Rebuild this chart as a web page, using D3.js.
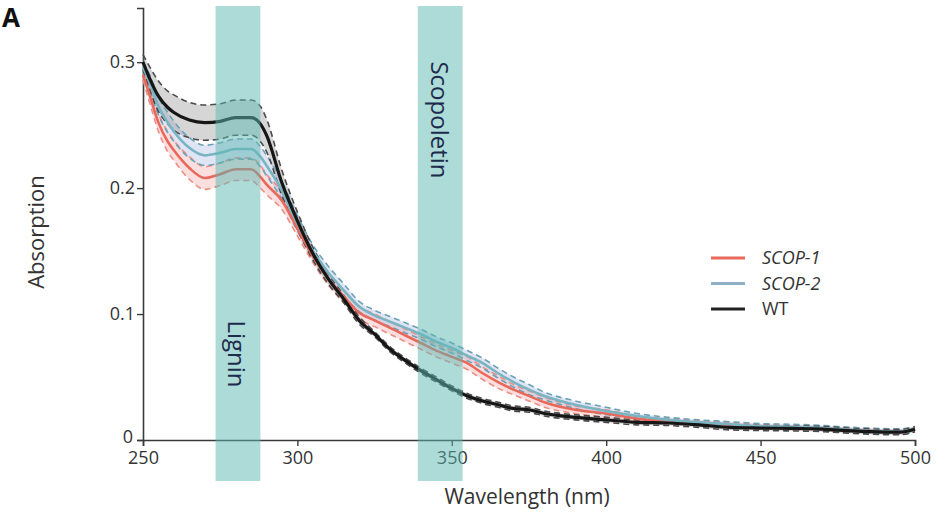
<!DOCTYPE html>
<html><head><meta charset="utf-8">
<script src="https://cdn.jsdelivr.net/npm/d3@7"></script>
<style>body{margin:0;background:#fff}svg{display:block}</style>
</head><body>
<svg id="chart" width="952" height="515"></svg>
<script>
const wavelengths = [250,252,255,258,260,265,270,275,280,285,288,290,295,300,305,310,315,320,325,330,335,340,345,350,355,360,365,370,375,380,390,400,410,420,430,440,450,460,470,480,490,495,500];
const wtValues   = [.300,.288,.273,.264,.260,.254,.252,.253,.256,.256,.251,.242,.204,.174,.148,.128,.112,.095,.084,.072,.063,.055,.048,.041,.035,.031,.028,.025,.024,.021,.018,.016,.014,.0135,.012,.010,.0095,.0092,.0087,.0072,.0063,.0062,.0085];
const scop1Values= [.290,.275,.252,.237,.230,.216,.208,.211,.215,.215,.209,.203,.190,.168,.146,.128,.114,.101,.095,.089,.083,.077,.071,.066,.061,.053,.046,.040,.035,.030,.024,.021,.017,.015,.0135,.012,.0105,.010,.009,.0078,.0068,.0066,.0085];
const scop2Values= [.296,.285,.265,.252,.245,.232,.226,.228,.231,.231,.225,.218,.198,.172,.150,.133,.119,.106,.099,.094,.089,.084,.078,.073,.067,.061,.053,.046,.040,.035,.028,.023,.019,.016,.014,.0125,.011,.0105,.0095,.008,.007,.0068,.0087];
const wtSE   = [.006,.009,.012,.013,.014,.014,.014,.014,.014,.014,.014,.013,.010,.007,.005,.004,.003,.003,.002,.002,.002,.002,.002,.002,.002,.002,.002,.002,.002,.002,.002,.002,.002,.002,.002,.002,.002,.002,.002,.002,.002,.002,.002];
const scop1SE= [.004,.006,.007,.008,.008,.009,.009,.009,.009,.009,.009,.008,.007,.006,.005,.005,.005,.005,.005,.005,.005,.005,.005,.005,.005,.005,.005,.004,.004,.004,.003,.003,.002,.002,.002,.002,.002,.002,.002,.002,.002,.002,.002];
const scop2SE= [.004,.006,.007,.008,.008,.008,.008,.008,.008,.008,.008,.008,.007,.006,.005,.005,.005,.004,.004,.004,.004,.004,.004,.004,.004,.004,.004,.004,.004,.003,.003,.003,.002,.002,.002,.002,.002,.002,.002,.002,.002,.002,.002];
const xTicks = [250,300,350,400,450,500];
const yTicks = [0,0.1,0.2,0.3];
const yTickLabels = ["0","0.1","0.2","0.3"];
const bandNames = ["Lignin","Scopoletin"];
const bandRanges = [[273.5,288],[339,353.5]];
const seriesNames = ["SCOP-1","SCOP-2","WT"];
const xLabel = "Wavelength (nm)";
const yLabel = "Absorption";
const panelLabel = "A";

const svg = d3.select("#chart");
const x = d3.scaleLinear().domain([250,500]).range([143,915]);
const y = d3.scaleLinear().domain([0,0.343]).range([440,8]);
const font = "'Open Sans', sans-serif";

const series = [
  {name:seriesNames[0], v:scop1Values, se:scop1SE, color:"#e8695c", dash:"#ec8f86", fill:"rgba(240,140,135,0.28)", w:2.6, italic:true},
  {name:seriesNames[1], v:scop2Values, se:scop2SE, color:"#78b4c2", dash:"#6aa2b4", fill:"rgba(165,180,225,0.35)", w:2.6, italic:true},
  {name:seriesNames[2], v:wtValues, se:wtSE, color:"#161616", dash:"#4a4a4a", fill:"rgba(120,120,120,0.3)", w:3.2, italic:false}
];

// axes
const gx = svg.append("g").attr("transform","translate(0,440)")
  .call(d3.axisBottom(x).tickValues(xTicks).tickSize(6).tickFormat(d3.format("d")));
const gy = svg.append("g").attr("transform","translate(143,0)")
  .call(d3.axisLeft(y).tickValues(yTicks).tickSize(6).tickFormat((d,i)=>yTickLabels[i]));
[gx,gy].forEach(g=>{
  g.select(".domain").attr("stroke","#3a3a3a").attr("stroke-width",1.6);
  g.selectAll(".tick line").attr("stroke","#3a3a3a").attr("stroke-width",1.4);
  g.selectAll(".tick text").attr("font-family",font).attr("font-size",18).attr("fill","#333");
});
gx.selectAll(".tick text").attr("dy","0.85em");
gy.selectAll(".tick text").attr("x",-8).attr("dy","0.3em");
gy.selectAll(".tick text").filter(d=>d===0).attr("x",-10).attr("dy","0.15em");

// data
const idx = d3.range(wavelengths.length);
const curve = d3.curveMonotoneX;
series.forEach(s=>{
  const area = d3.area().x(i=>x(wavelengths[i])).y0(i=>y(s.v[i]-s.se[i])).y1(i=>y(s.v[i]+s.se[i])).curve(curve);
  svg.append("path").attr("d",area(idx)).attr("fill",s.fill);
});
series.forEach(s=>{
  [1,-1].forEach(sg=>{
    const l = d3.line().x(i=>x(wavelengths[i])).y(i=>y(s.v[i]+sg*s.se[i])).curve(curve);
    svg.append("path").attr("d",l(idx)).attr("fill","none").attr("stroke",s.dash)
      .attr("stroke-width",1.6).attr("stroke-dasharray","6,4");
  });
});
series.forEach(s=>{
  const l = d3.line().x(i=>x(wavelengths[i])).y(i=>y(s.v[i])).curve(curve);
  svg.append("path").attr("d",l(idx)).attr("fill","none").attr("stroke",s.color)
    .attr("stroke-width",s.w).attr("stroke-linejoin","round");
});

// bands
bandRanges.forEach((r,i)=>{
  svg.append("rect").attr("x",x(r[0])).attr("width",x(r[1])-x(r[0]))
    .attr("y",6).attr("height",475).attr("fill","rgb(91,183,177)").attr("opacity",0.5);
});
const bandLabelY = [354,120];
bandRanges.forEach((r,i)=>{
  const cx = (x(r[0])+x(r[1]))/2;
  svg.append("text").attr("transform",`translate(${cx},${bandLabelY[i]}) rotate(90)`)
    .attr("text-anchor","middle").attr("dominant-baseline","central")
    .attr("font-family",font).attr("font-size",24).attr("fill","#1d2b4c").text(bandNames[i]);
});

// legend
series.forEach((s,i)=>{
  const ly = 258 + i*25.5;
  svg.append("line").attr("x1",711).attr("x2",745).attr("y1",ly).attr("y2",ly)
    .attr("stroke",i===2?"#222":(i===0?"#e8695c":"#8fb0c4")).attr("stroke-width",3);
  svg.append("text").attr("x",762).attr("y",ly).attr("dy","0.35em")
    .attr("font-family",font).attr("font-size",18).attr("fill","#333")
    .attr("font-style",s.italic?"italic":"normal").text(s.name);
});

// axis labels
svg.append("text").attr("x",527).attr("y",504).attr("text-anchor","middle")
  .attr("font-family",font).attr("font-size",21).attr("fill","#333").text(xLabel);
svg.append("text").attr("transform","translate(44,232) rotate(-90)").attr("text-anchor","middle")
  .attr("font-family",font).attr("font-size",22).attr("fill","#333").text(yLabel);
svg.append("text").attr("x",2).attr("y",27).attr("font-family",font).attr("font-weight","bold")
  .attr("font-size",26).attr("fill","#111").text(panelLabel);
</script>
</body></html>
